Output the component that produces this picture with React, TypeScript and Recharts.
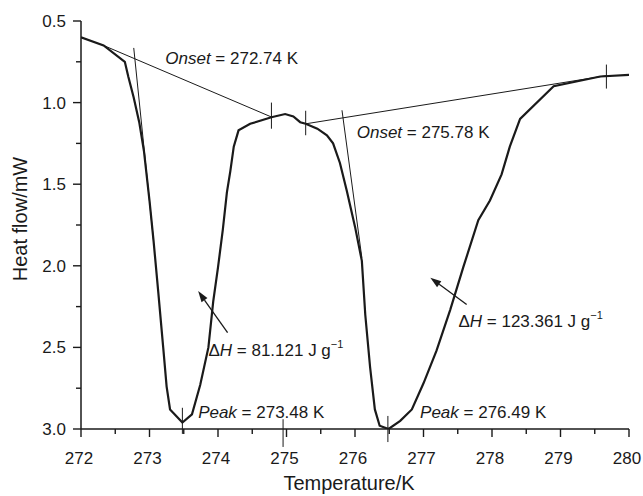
import React from 'react'
import { LineChart, Line, XAxis, YAxis, ReferenceLine, ReferenceDot, Label } from 'recharts'

// DSC trace (temperature in K, heat flow in mW)
const temps = [
  272.0, 272.33, 272.64, 272.69, 272.77, 272.85, 272.92, 273.0, 273.06, 273.13,
  273.2, 273.25, 273.3, 273.48, 273.62, 273.74, 273.86, 273.93, 274.0, 274.07,
  274.13, 274.18, 274.23, 274.3, 274.47, 274.78, 274.98, 275.1, 275.2, 275.28,
  275.45, 275.59, 275.68, 275.78, 275.88, 276.0, 276.1, 276.15, 276.22, 276.29,
  276.36, 276.49, 276.66, 276.83, 277.0, 277.19, 277.39, 277.58, 277.8, 277.97,
  278.14, 278.26, 278.41, 278.9, 279.58, 280.0,
]
const heatFlow = [
  0.6, 0.65, 0.75, 0.84, 0.97, 1.12, 1.3, 1.6, 1.85, 2.17,
  2.5, 2.74, 2.88, 2.96, 2.91, 2.73, 2.5, 2.22, 2.01, 1.78,
  1.55, 1.42, 1.27, 1.17, 1.13, 1.09, 1.07, 1.085, 1.12, 1.13,
  1.16, 1.2, 1.25, 1.37, 1.54, 1.76, 1.97, 2.3, 2.62, 2.88,
  2.98, 3.0, 2.95, 2.88, 2.72, 2.52, 2.27, 2.01, 1.72, 1.6,
  1.44, 1.27, 1.1, 0.9, 0.84, 0.83,
]

const xTicks = [272, 272.5, 273, 273.5, 274, 274.5, 275, 275.5, 276, 276.5, 277, 277.5, 278, 278.5, 279, 279.5, 280]
const yTicks = [0.5, 0.75, 1.0, 1.25, 1.5, 1.75, 2.0, 2.25, 2.5, 2.75, 3.0]

// baselines and onset tangents: [[x1, y1], [x2, y2]]
const baselines = [
  [[272.33, 0.65], [274.79, 1.09]],
  [[275.28, 1.13], [279.67, 0.835]],
]
const tangents = [
  [[272.77, 0.665], [273.06, 1.85]],
  [[275.81, 1.047], [276.1, 1.95]],
]
// small vertical markers: [x, yTop, yBottom]
const markers = [
  [274.78, 1.0, 1.16],
  [275.28, 1.05, 1.2],
  [279.67, 0.767, 0.914],
  [273.48, 2.87, 3.03],
  [276.48, 2.92, 3.08],
  [274.95, 2.94, 3.11],
]
// arrows: tail -> head
const arrows = [
  [[274.14, 2.41], [273.71, 2.155]],
  [[277.63, 2.237], [277.1, 2.073]],
]
const notes = [
  { x: 273.23, y: 0.761, pre: '', ital: 'Onset', post: ' = 272.74 K', sup: '' },
  { x: 276.025, y: 1.217, pre: '', ital: 'Onset', post: ' = 275.78 K', sup: '' },
  { x: 273.86, y: 2.55, pre: '\u0394', ital: 'H', post: ' = 81.121 J g', sup: '\u22121' },
  { x: 277.51, y: 2.372, pre: '\u0394', ital: 'H', post: ' = 123.361 J g', sup: '\u22121' },
  { x: 273.71, y: 2.935, pre: '', ital: 'Peak', post: ' = 273.48 K', sup: '' },
  { x: 276.95, y: 2.935, pre: '', ital: 'Peak', post: ' = 276.49 K', sup: '' },
]

const FONT = '"Liberation Sans", Arial, sans-serif'
const INK = '#1a1a1a'

const XTick = (props: any) => {
  const { x, y, payload } = props
  const major = Number.isInteger(payload.value)
  return (
    <g>
      <line x1={x} x2={x} y1={y} y2={y + (major ? 8 : 5)} stroke={INK} strokeWidth={1.4} />
      {major && (
        <text x={x - 2} y={y + 35} textAnchor="middle" fontSize={17} fontFamily={FONT} fill={INK}>
          {payload.value}
        </text>
      )}
    </g>
  )
}

const YTick = (props: any) => {
  const { x, y, payload } = props
  const v = payload.value
  const major = Math.abs(v * 2 - Math.round(v * 2)) < 1e-6
  return (
    <g>
      <line x1={x} x2={x - (major ? 8 : 5)} y1={y} y2={y} stroke={INK} strokeWidth={1.4} />
      {major && (
        <text x={x - 15} y={y + 6} textAnchor="end" fontSize={17} fontFamily={FONT} fill={INK}>
          {v.toFixed(1)}
        </text>
      )}
    </g>
  )
}

const ArrowShape = (props: any) => {
  const { x1, y1, x2, y2 } = props
  const a = Math.atan2(y2 - y1, x2 - x1)
  const len = 11
  const w = 3.6
  const bx = x2 - len * Math.cos(a)
  const by = y2 - len * Math.sin(a)
  const px = -Math.sin(a) * w
  const py = Math.cos(a) * w
  return (
    <g>
      <line x1={x1} y1={y1} x2={bx} y2={by} stroke={INK} strokeWidth={1.3} />
      <polygon points={`${x2},${y2} ${bx + px},${by + py} ${bx - px},${by - py}`} fill={INK} />
    </g>
  )
}

const NoteLabel = (props: any) => {
  const { viewBox, note } = props
  return (
    <text x={viewBox.x} y={viewBox.y} fontSize={17} fontFamily={FONT} fill={INK}>
      {note.pre && <tspan>{note.pre}</tspan>}
      <tspan fontStyle="italic">{note.ital}</tspan>
      <tspan>{note.post}</tspan>
      {note.sup && (
        <tspan dy={-8} fontSize={11}>
          {note.sup}
        </tspan>
      )}
    </text>
  )
}

const XTitle = (props: any) => {
  const { viewBox } = props
  return (
    <text x={viewBox.x + viewBox.width / 2 - 6} y={490} textAnchor="middle" fontSize={20} fontFamily={FONT} fill={INK}>
      Temperature/K
    </text>
  )
}

const YTitle = (props: any) => {
  const { viewBox } = props
  const cy = viewBox.y + viewBox.height / 2 - 6
  return (
    <text x={27} y={cy} transform={`rotate(-90, 27, ${cy})`} textAnchor="middle" fontSize={20} fontFamily={FONT} fill={INK}>
      Heat flow/mW
    </text>
  )
}

const App = () => {
  const data = temps.map((t, i) => ({ t, h: heatFlow[i] }))
  const thin = { stroke: INK, strokeWidth: 1 }
  return (
    <div style={{ position: 'absolute', left: 0, top: 0, background: '#fff' }}>
      <LineChart width={643} height={496} data={data} margin={{ top: 21, right: 14, bottom: 7, left: 0 }}>
        <XAxis
          type="number"
          dataKey="t"
          domain={[272, 280]}
          ticks={xTicks}
          interval={0}
          allowDataOverflow
          height={60}
          tickSize={0}
          tickMargin={0}
          tickLine={false}
          tick={<XTick />}
          axisLine={{ stroke: INK, strokeWidth: 1.5 }}
        >
          <Label content={<XTitle />} />
        </XAxis>
        <YAxis
          type="number"
          domain={[0.5, 3.0]}
          reversed
          ticks={yTicks}
          interval={0}
          allowDataOverflow
          width={81}
          tickSize={0}
          tickMargin={0}
          tickLine={false}
          tick={<YTick />}
          axisLine={{ stroke: INK, strokeWidth: 1.5 }}
        >
          <Label content={<YTitle />} />
        </YAxis>
        {baselines.map((s, i) => (
          <ReferenceLine key={'b' + i} segment={[{ x: s[0][0], y: s[0][1] }, { x: s[1][0], y: s[1][1] }]} {...thin} ifOverflow="visible" />
        ))}
        {tangents.map((s, i) => (
          <ReferenceLine key={'t' + i} segment={[{ x: s[0][0], y: s[0][1] }, { x: s[1][0], y: s[1][1] }]} {...thin} ifOverflow="visible" />
        ))}
        {markers.map((m, i) => (
          <ReferenceLine key={'m' + i} segment={[{ x: m[0], y: m[1] }, { x: m[0], y: m[2] }]} {...thin} ifOverflow="visible" />
        ))}
        {arrows.map((s, i) => (
          <ReferenceLine
            key={'a' + i}
            segment={[{ x: s[0][0], y: s[0][1] }, { x: s[1][0], y: s[1][1] }]}
            shape={ArrowShape}
            ifOverflow="visible"
          />
        ))}
        <Line type="linear" dataKey="h" stroke={INK} strokeWidth={2.2} dot={false} isAnimationActive={false} />
        {notes.map((n, i) => (
          <ReferenceDot key={'n' + i} x={n.x} y={n.y} r={0} fill="none" stroke="none" ifOverflow="visible" label={<NoteLabel note={n} />} />
        ))}
      </LineChart>
    </div>
  )
}

export default App
